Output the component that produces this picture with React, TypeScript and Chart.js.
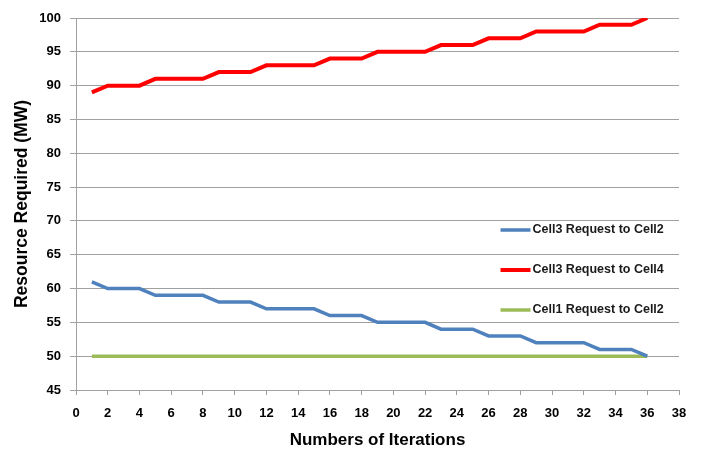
import React, { useEffect, useRef } from "react";
import { Chart, registerables } from "chart.js";

Chart.register(...registerables);

const iterations = [
  1, 2, 3, 4, 5, 6, 7, 8, 9, 10, 11, 12, 13, 14, 15, 16, 17, 18,
  19, 20, 21, 22, 23, 24, 25, 26, 27, 28, 29, 30, 31, 32, 33, 34, 35, 36,
];
const cell3ToCell2 = [
  61, 60, 60, 60, 59, 59, 59, 59, 58, 58, 58, 57, 57, 57, 57, 56, 56, 56,
  55, 55, 55, 55, 54, 54, 54, 53, 53, 53, 52, 52, 52, 52, 51, 51, 51, 50,
];
const cell3ToCell4 = [
  89, 90, 90, 90, 91, 91, 91, 91, 92, 92, 92, 93, 93, 93, 93, 94, 94, 94,
  95, 95, 95, 95, 96, 96, 96, 97, 97, 97, 98, 98, 98, 98, 99, 99, 99, 100,
];
const cell1ToCell2 = [
  50, 50, 50, 50, 50, 50, 50, 50, 50, 50, 50, 50, 50, 50, 50, 50, 50, 50,
  50, 50, 50, 50, 50, 50, 50, 50, 50, 50, 50, 50, 50, 50, 50, 50, 50, 50,
];
const seriesLabels = [
  "Cell3 Request to Cell2",
  "Cell3 Request to Cell4",
  "Cell1 Request to Cell2",
];
const xTitle = "Numbers of Iterations";
const yTitle = "Resource Required (MW)";

const FONT = '"Liberation Sans", Arial, sans-serif';

const insideLegend = {
  id: "insideLegend",
  afterDraw(chart: any) {
    const { ctx, chartArea } = chart;
    const x0 = chartArea.left + (chartArea.right - chartArea.left) * 0.704;
    const yStart = chartArea.top + 212;
    const gap = 40;
    ctx.save();
    ctx.font = `bold 12.5px ${FONT}`;
    ctx.textBaseline = "middle";
    ctx.textAlign = "left";
    chart.data.datasets.forEach((ds: any, i: number) => {
      const y = yStart + i * gap;
      ctx.strokeStyle = ds.borderColor;
      ctx.lineWidth = ds.borderWidth;
      ctx.beginPath();
      ctx.moveTo(x0, y);
      ctx.lineTo(x0 + 30, y);
      ctx.stroke();
      ctx.fillStyle = "#1a1a1a";
      ctx.fillText(ds.label, x0 + 32, y);
    });
    ctx.restore();
  },
};

export default function App() {
  const ref = useRef<HTMLCanvasElement>(null);
  useEffect(() => {
    document.body.style.margin = "0";
    const mk = (ys: number[]) => iterations.map((x, i) => ({ x, y: ys[i] }));
    const chart = new Chart(ref.current!, {
      type: "line",
      data: {
        datasets: [
          {
            label: seriesLabels[0],
            data: mk(cell3ToCell2),
            borderColor: "#4f81bd",
            borderWidth: 3.5,
            pointRadius: 0,
            tension: 0,
          },
          {
            label: seriesLabels[1],
            data: mk(cell3ToCell4),
            borderColor: "#ff0000",
            borderWidth: 4,
            pointRadius: 0,
            tension: 0,
          },
          {
            label: seriesLabels[2],
            data: mk(cell1ToCell2),
            borderColor: "#9bbb59",
            borderWidth: 3.5,
            pointRadius: 0,
            tension: 0,
          },
        ],
      },
      options: {
        responsive: false,
        animation: false,
        layout: { padding: { left: 0, right: 22, top: 18, bottom: 0 } },
        plugins: { legend: { display: false }, tooltip: { enabled: false } },
        scales: {
          x: {
            type: "linear",
            min: 0,
            max: 38,
            afterFit: (s: any) => {
              s.height = 61;
            },
            ticks: {
              stepSize: 2,
              color: "#000",
              padding: 11,
              maxRotation: 0,
              autoSkip: false,
              font: { family: FONT, size: 13, weight: "bold" },
            },
            grid: {
              drawOnChartArea: false,
              drawTicks: true,
              tickLength: 5,
              color: "#a0a0a0",
            },
            border: { color: "#a0a0a0", width: 1 },
            title: {
              display: true,
              text: xTitle,
              color: "#000",
              font: { family: FONT, size: 17, weight: "bold" },
              padding: { top: 0, bottom: 0 },
            },
          },
          y: {
            min: 45,
            max: 100,
            afterFit: (s: any) => {
              s.width = 76;
            },
            ticks: {
              stepSize: 5,
              color: "#000",
              padding: 9,
              font: { family: FONT, size: 13, weight: "bold" },
            },
            grid: {
              color: "#a0a0a0",
              tickLength: 6,
            },
            border: { color: "#a0a0a0", width: 1 },
            title: {
              display: true,
              text: yTitle,
              color: "#000",
              font: { family: FONT, size: 17.5, weight: "bold" },
              padding: { top: 12, bottom: 0 },
            },
          },
        },
      },
      plugins: [insideLegend],
    });
    return () => chart.destroy();
  }, []);
  return (
    <div style={{ width: 701, height: 451 }}>
      <canvas ref={ref} width={701} height={451} />
    </div>
  );
}
